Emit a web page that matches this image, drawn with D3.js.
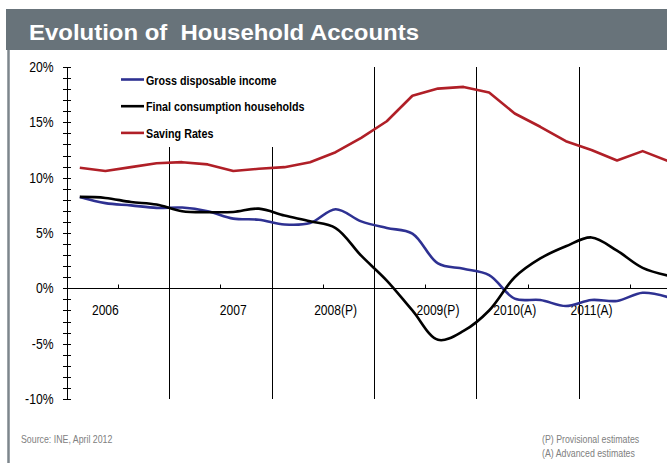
<!DOCTYPE html>
<html>
<head>
<meta charset="utf-8">
<script src="https://cdn.jsdelivr.net/npm/d3@7"></script>
<style>
  html, body { margin: 0; padding: 0; background: #fff; }
  svg { display: block; }
</style>
</head>
<body>
<svg id="chart" width="667" height="463"></svg>
<script>
// ---- data ----
const quarters = [
  "2006Q1","2006Q2","2006Q3","2006Q4",
  "2007Q1","2007Q2","2007Q3","2007Q4",
  "2008Q1","2008Q2","2008Q3","2008Q4",
  "2009Q1","2009Q2","2009Q3","2009Q4",
  "2010Q1","2010Q2","2010Q3","2010Q4",
  "2011Q1","2011Q2","2011Q3","2011Q4"
];
const years = ["2006", "2007", "2008(P)", "2009(P)", "2010(A)", "2011(A)"];
// quarter under which each year label sits in the original chart
const yearLabelAt = ["2006Q2", "2007Q3", "2008Q3", "2009Q3", "2010Q2", "2011Q1"];
const grossIncome = [8.26, 7.7, 7.5, 7.27, 7.3, 6.97, 6.3, 6.2, 5.77, 5.9, 7.15, 6.05,
                     5.45, 4.95, 2.25, 1.77, 1.2, -0.93, -1.05, -1.6, -1.05, -1.14, -0.4, -0.8];
const finalConsumption = [8.26, 8.17, 7.8, 7.57, 6.97, 6.88, 6.9, 7.2, 6.58, 6.06, 5.45, 2.95,
                          0.7, -2.0, -4.65, -3.85, -2.0, 1.0, 2.7, 3.8, 4.6, 3.4, 1.85, 1.15];
const savingRates = [10.9, 10.6, 10.95, 11.3, 11.4, 11.2, 10.6, 10.8, 10.95, 11.4, 12.3, 13.6,
                     15.1, 17.4, 18.05, 18.2, 17.7, 15.8, 14.6, 13.3, 12.5, 11.55, 12.4, 11.5];
const seriesNames = ["Gross disposable income", "Final consumption households", "Saving Rates"];
const yTicks = [-10, -5, 0, 5, 10, 15, 20];

// ---- layout ----
const svg = d3.select("#chart");
const pLeft = 67, pRight = 681, pTop = 67, pBottom = 399;
const colors = ["#2e3192", "#000000", "#b01f27"];
const FONT = "'Liberation Sans', Arial, sans-serif";

// condensed text helper (emulates Arial Narrow)
function ntext(parent, x, yv, str, size, opts = {}) {
  const sx = opts.sx || 0.8;
  return parent.append("text")
    .attr("transform", `translate(${x},${yv}) scale(${sx},1)`)
    .attr("font-family", FONT).attr("font-size", size)
    .attr("font-weight", opts.weight || "normal")
    .attr("text-anchor", opts.anchor || "start")
    .attr("fill", opts.fill || "#000")
    .text(str);
}

svg.append("rect").attr("width", 667).attr("height", 463).attr("fill", "#fff");

// title bar
svg.append("rect").attr("x", 6).attr("y", 9).attr("width", 661).attr("height", 41).attr("fill", "#68737a");
svg.append("text").attr("x", 29).attr("y", 39.5)
  .attr("font-family", FONT)
  .attr("font-weight", "bold").attr("font-size", 22.5).attr("fill", "#fff")
  .attr("textLength", 390).attr("lengthAdjust", "spacingAndGlyphs")
  .style("white-space", "pre")
  .text("Evolution of  Household Accounts");
// left frame line
svg.append("line").attr("x1", 8.5).attr("x2", 8.5).attr("y1", 50).attr("y2", 463)
  .attr("stroke", "#7d868c").attr("stroke-width", 2.5);

const x = d3.scaleBand().domain(quarters).range([pLeft, pRight]);
const xYear = d3.scaleBand().domain(years).range([pLeft, pRight]);
const y = d3.scaleLinear().domain([-10, 20]).range([pBottom, pTop]);
const qx = d => x(d) + x.bandwidth() / 2;

// year boundary lines
const legendRight = 285, legendBottom = 147;
years.slice(1).forEach(yr => {
  const xv = Math.round(xYear(yr)) + 0.5;
  svg.append("line").attr("x1", xv).attr("x2", xv)
    .attr("y1", xv < legendRight ? legendBottom : pTop).attr("y2", pBottom)
    .attr("stroke", "#000").attr("stroke-width", 1);
});

// y axis
const yAxisG = svg.append("g");
yAxisG.append("line").attr("x1", pLeft + 0.5).attr("x2", pLeft + 0.5).attr("y1", pTop).attr("y2", pBottom)
  .attr("stroke", "#000").attr("stroke-width", 1);
y.ticks(30).forEach(t => {
  const yy = Math.round(y(t)) + 0.5;
  yAxisG.append("line").attr("x1", pLeft - 4).attr("x2", pLeft + 4).attr("y1", yy).attr("y2", yy)
    .attr("stroke", "#000").attr("stroke-width", 1);
});
yTicks.forEach(t => {
  ntext(yAxisG, 53.5, y(t) + 5, t + "%", 14.5, { anchor: "end", sx: 0.84 });
});

// x axis at zero
const y0 = Math.round(y(0)) + 0.5;
svg.append("line").attr("x1", pLeft).attr("x2", pRight).attr("y1", y0).attr("y2", y0)
  .attr("stroke", "#000").attr("stroke-width", 1.2);
years.forEach((yr, i) => {
  const xv = Math.round(xYear(yr) + xYear.bandwidth() / 2) + 0.5;
  svg.append("line").attr("x1", xv).attr("x2", xv).attr("y1", y0 - 4).attr("y2", y0)
    .attr("stroke", "#000").attr("stroke-width", 1);
  ntext(svg, qx(yearLabelAt[i]), y0 + 26, yr, 15.5, { anchor: "middle", sx: 0.78 });
});

// lines
const smooth = d3.line().x((d, i) => qx(quarters[i])).y(d => y(d)).curve(d3.curveCatmullRom.alpha(0.5));
const straight = d3.line().x((d, i) => qx(quarters[i])).y(d => y(d));
svg.append("path").attr("d", straight(savingRates)).attr("fill", "none")
  .attr("stroke", colors[2]).attr("stroke-width", 2.6).attr("stroke-linejoin", "round");
svg.append("path").attr("d", smooth(grossIncome)).attr("fill", "none")
  .attr("stroke", colors[0]).attr("stroke-width", 2.6);
svg.append("path").attr("d", smooth(finalConsumption)).attr("fill", "none")
  .attr("stroke", colors[1]).attr("stroke-width", 2.6);

// legend
seriesNames.forEach((name, i) => {
  const ly = 79.5 + i * 26.7;
  svg.append("line").attr("x1", 121).attr("x2", 144).attr("y1", ly).attr("y2", ly)
    .attr("stroke", colors[i]).attr("stroke-width", 2.6);
  ntext(svg, 146, ly + 5, name, 13.5, { weight: "bold", sx: 0.795 });
});

// footnotes
ntext(svg, 21, 443, "Source: INE, April 2012", 11, { fill: "#808080", sx: 0.8 });
ntext(svg, 542, 443, "(P) Provisional estimates", 11, { fill: "#808080", sx: 0.8 });
ntext(svg, 542, 457, "(A) Advanced estimates", 11, { fill: "#808080", sx: 0.8 });
</script>
</body>
</html>
